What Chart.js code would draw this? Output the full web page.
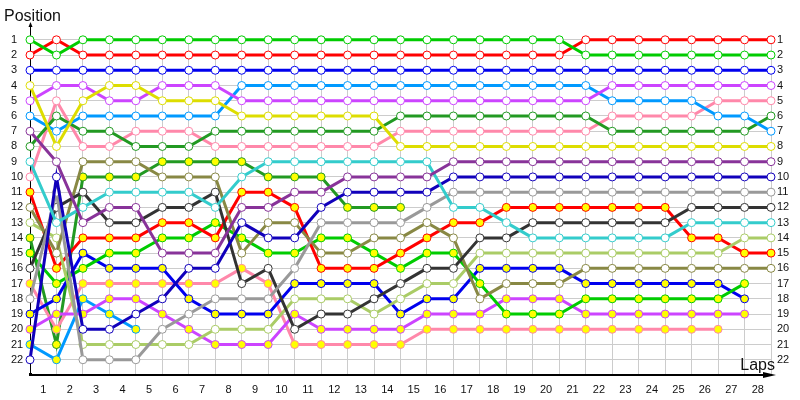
<!DOCTYPE html>
<html>
<head>
<meta charset="utf-8">
<script src="https://cdn.jsdelivr.net/npm/chart.js@4.4.0/dist/chart.umd.min.js"></script>
<style>
  html, body { margin: 0; padding: 0; background: #fff; }
  #wrap { width: 800px; height: 400px; }
</style>
</head>
<body>
<div id="wrap"><canvas id="race"></canvas></div>
<script>
// position of each car at lap 0..N (shorter arrays = retired / lapped)
const green1  = [1,2,1,1,1,1,1,1,1,1,1,1,1,1,1,1,1,1,1,1,1,2,2,2,2,2,2,2,2];
const red1    = [2,1,2,2,2,2,2,2,2,2,2,2,2,2,2,2,2,2,2,2,2,1,1,1,1,1,1,1,1];
const blue1   = [3,3,3,3,3,3,3,3,3,3,3,3,3,3,3,3,3,3,3,3,3,3,3,3,3,3,3,3,3];
const yellow1 = [4,8,5,4,4,5,5,5,6,6,6,6,6,6,8,8,8,8,8,8,8,8,8,8,8,8,8,8,8];
const violet1 = [5,4,4,5,5,4,4,4,5,5,5,5,5,5,5,5,5,5,5,5,5,5,4,4,4,4,4,4,4];
const sky1    = [6,7,6,6,6,6,6,6,4,4,4,4,4,4,4,4,4,4,4,4,4,4,5,5,5,5,6,6,7];
const purple1 = [7,9,13,12,12,15,15,15,12,12,11,11,10,10,10,10,9,9,9,9,9,9,9,9,9,9,9,9,9];
const dgreen1 = [8,6,7,7,8,8,8,7,7,7,7,7,7,7,6,6,6,6,6,6,6,6,7,7,7,7,7,7,6];
const cyan1   = [9,13,12,11,11,11,11,12,10,9,9,9,9,9,9,9,12,12,13,14,14,14,14,14,14,13,13,13,13];
const pink1   = [10,5,8,8,7,7,7,8,8,8,8,8,8,8,7,7,7,7,7,7,7,7,6,6,6,6,5,5,5];
const red2    = [11,16,14,14,14,13,13,14,11,11,12,16,16,16,15,14,13,13,12,12,12,12,12,12,12,14,14,15,15];
const olive1  = [12,15,9,9,9,10,10,10,15,13,13,15,15,14,14,13,14,18,17,17,17,16,16,16,16,16,16,16,16];
const lolive1 = [13,14,21,21,21,21,21,20,20,20,18,18,18,19,18,17,17,15,15,15,15,15,15,15,15,15,15,14,14];
const dgreen2 = [14,21,10,10,10,9,9,9,9,10,10,10,12,12,12];
const green2  = [15,17,16,15,15,14,14,13,14,15,15,14,14,15,16,15,15,17,19,19,19,18,18,18,18,18,18,17];
const black1  = [16,12,11,13,13,12,12,11,17,16,20,19,19,18,17,16,16,14,14,13,13,13,13,13,13,12,12,12,12];
const pink2   = [17,20,17,17,17,17,17,17,16,17,21,21,21,21,21,20,20,20,20,20,20,20,20,20,20,20,20];
const grey1   = [18,11,22,22,22,20,19,18,18,18,16,13,13,13,13,12,11,11,11,11,11,11,11,11,11,11,11,11,11];
const blue2   = [19,18,15,16,16,16,18,19,19,19,17,17,17,17,19,18,18,16,16,16,16,17,17,17,17,17,17,18];
const violet2 = [20,19,19,18,18,19,20,21,21,21,19,20,20,20,20,19,19,19,18,18,18,19,19,19,19,19,19,19];
const sky2    = [21,22,18,19,20];
const navy1   = [22,10,20,20,19,18,16,16,13,14,14,12,11,11,11,11,10,10,10,10,10,10,10,10,10,10,10,10,10];

const lapLabels = [1,2,3,4,5,6,7,8,9,10,11,12,13,14,15,16,17,18,19,20,21,22,23,24,25,26,27,28];
const posLabels = [1,2,3,4,5,6,7,8,9,10,11,12,13,14,15,16,17,18,19,20,21,22];

const WHITE = '#ffffff', YELLOW = '#ffff00';
const cars = [
  [green1, '#00cc00', WHITE], [red1, '#ff0000', WHITE], [blue1, '#0000ee', WHITE],
  [yellow1, '#dddd00', WHITE], [violet1, '#cc44ff', WHITE], [sky1, '#0099ff', WHITE],
  [purple1, '#883399', WHITE], [dgreen1, '#229922', WHITE], [cyan1, '#33cccc', WHITE],
  [pink1, '#ff88aa', WHITE], [navy1, '#1100bb', WHITE], [grey1, '#999999', WHITE],
  [black1, '#333333', WHITE], [olive1, '#888844', WHITE], [lolive1, '#aacc66', WHITE],
  [red2, '#ff0000', YELLOW], [green2, '#00cc00', YELLOW], [blue2, '#0000ee', YELLOW],
  [violet2, '#cc44ff', YELLOW], [pink2, '#ff88aa', YELLOW], [dgreen2, '#229922', YELLOW],
  [sky2, '#0099ff', YELLOW]
];

const datasets = cars.map(([arr, col, fill]) => ({
  data: arr.map((p, i) => ({x: i, y: p})),
  borderColor: col,
  borderWidth: 3,
  pointRadius: 4,
  pointBorderWidth: 1,
  pointBorderColor: col,
  pointBackgroundColor: fill,
  tension: 0,
  clip: false
}));

const tickFont = {family: 'Liberation Sans', size: 11};

function posAxis(side) {
  return {
    type: 'linear',
    position: side,
    reverse: true,
    min: 0.75,
    max: 23,
    afterBuildTicks: s => { s.ticks = posLabels.map(v => ({value: v})); },
    afterFit: s => { s.width = side == 'left' ? 19 : 29; },
    border: {display: false},
    grid: side == 'left'
      ? {color: '#cccccc', drawTicks: false}
      : {display: false, drawTicks: false},
    ticks: {
      autoSkip: false,
      crossAlign: side == 'left' ? 'far' : 'near',
      padding: 6,
      color: '#111',
      font: tickFont,
      callback: v => String(v)
    }
  };
}

const axesPlugin = {
  id: 'axesPlugin',
  beforeDatasetsDraw(chart) {
    const {ctx, chartArea: a} = chart;
    ctx.save();
    ctx.strokeStyle = '#000';
    ctx.fillStyle = '#000';
    ctx.lineWidth = 1;
    ctx.beginPath();
    ctx.moveTo(a.left + 0.5, a.bottom);
    ctx.lineTo(a.left + 0.5, 24);
    ctx.stroke();
    ctx.beginPath();
    ctx.moveTo(a.left + 0.5, 22);
    ctx.lineTo(a.left - 1.5, 27);
    ctx.lineTo(a.left + 2.5, 27);
    ctx.fill();
    ctx.lineWidth = 2;
    ctx.beginPath();
    ctx.moveTo(a.left, a.bottom);
    ctx.lineTo(770, a.bottom);
    ctx.stroke();
    ctx.beginPath();
    ctx.moveTo(776, a.bottom);
    ctx.lineTo(763, a.bottom - 3);
    ctx.lineTo(763, a.bottom + 3);
    ctx.fill();
    ctx.fillRect(a.left - 1, a.bottom - 2, 3, 3);
    ctx.restore();
  },
  afterDraw(chart) {
    const {ctx, chartArea: a} = chart;
    ctx.save();
    ctx.fillStyle = '#111';
    ctx.font = '16px "Liberation Sans"';
    ctx.textAlign = 'left';
    ctx.textBaseline = 'alphabetic';
    ctx.fillText('Position', 4, 21);
    ctx.textAlign = 'right';
    ctx.fillText('Laps', 775, a.bottom - 5);
    ctx.restore();
  }
};

new Chart(document.getElementById('race'), {
  type: 'line',
  data: {datasets: datasets},
  plugins: [axesPlugin],
  options: {
    responsive: true,
    maintainAspectRatio: false,
    animation: false,
    devicePixelRatio: 1,
    layout: {padding: {left: 11, top: 36, right: 0, bottom: 0}},
    plugins: {legend: {display: false}, tooltip: {enabled: false}},
    scales: {
      x: {
        type: 'linear',
        min: 0,
        max: 28,
        afterBuildTicks: s => {
          const t = [{value: 0}];
          lapLabels.forEach(n => { t.push({value: n - 0.5}); t.push({value: n}); });
          s.ticks = t;
        },
        afterFit: s => { s.height = 25; },
        border: {display: false},
        grid: {
          drawTicks: false,
          color: c => (c.tick && Number.isInteger(c.tick.value) && c.tick.value > 0) ? '#cccccc' : 'rgba(0,0,0,0)'
        },
        ticks: {
          autoSkip: false,
          maxRotation: 0,
          padding: 8,
          color: '#111',
          font: tickFont,
          callback: v => Number.isInteger(v) ? '' : String(v + 0.5)
        }
      },
      y: posAxis('left'),
      y2: posAxis('right')
    }
  }
});
</script>
</body>
</html>
